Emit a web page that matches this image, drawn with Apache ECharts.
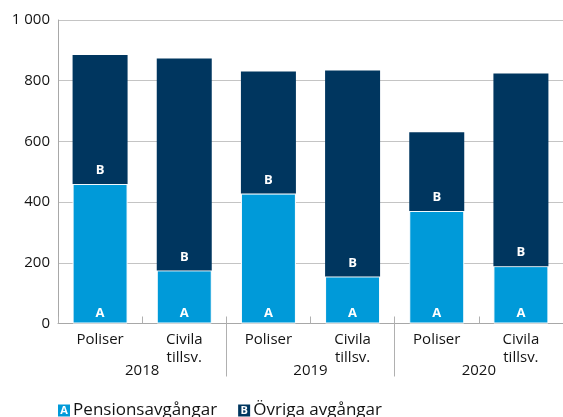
<!DOCTYPE html>
<html>
<head>
<meta charset="utf-8">
<script src="https://cdn.jsdelivr.net/npm/echarts@6/dist/echarts.min.js"></script>
<style>
  html, body { margin: 0; padding: 0; background: #fff; }
  #chart { width: 563px; height: 417px; }
</style>
</head>
<body>
<div id="chart"></div>
<script>
// Avgångar per år och personalkategori
const categories = ['Poliser', 'Civila\ntillsv.', 'Poliser', 'Civila\ntillsv.', 'Poliser', 'Civila\ntillsv.'];
const years = ['2018', '2019', '2020'];
const pension = [460, 175, 428, 155, 371, 189];   // A Pensionsavgångar
const ovriga = [425, 698, 402, 679, 259, 635];    // B Övriga avgångar
const yTicks = [0, 200, 400, 600, 800, 1000];

const colorA = '#009ad9';
const colorB = '#00365f';
const textColor = '#141414';
const fontFamily = '"Open Sans", "Noto Sans", sans-serif';

const chart = echarts.init(document.getElementById('chart'), null, { renderer: 'canvas' });

function thousands(v) {
  return String(v).replace(/\B(?=(\d{3})+(?!\d))/g, ' ');
}

chart.setOption({
  animation: false,
  textStyle: { fontFamily: fontFamily },
  grid: { left: 58, right: 0, top: 20, bottom: 93.5, containLabel: false },
  legend: {
    left: 47,
    bottom: -7,
    itemWidth: 0,
    itemHeight: 0,
    itemGap: 16,
    icon: 'rect',
    data: ['Pensionsavgångar', 'Övriga avgångar'],
    formatter: function (name) {
      return name === 'Pensionsavgångar'
        ? '{a|A} {t|' + name + '}'
        : '{b|B} {t|' + name + '}';
    },
    textStyle: {
      rich: {
        a: { backgroundColor: colorA, color: '#fff', fontWeight: 'bold', fontSize: 11, width: 12, height: 12, align: 'center', lineHeight: 12, fontFamily: fontFamily },
        b: { backgroundColor: colorB, color: '#fff', fontWeight: 'bold', fontSize: 11, width: 12, height: 12, align: 'center', lineHeight: 12, fontFamily: fontFamily },
        t: { color: textColor, fontSize: 17, fontFamily: fontFamily }
      }
    }
  },
  xAxis: [
    {
      type: 'category',
      data: categories,
      position: 'bottom',
      axisLine: { show: true, lineStyle: { color: '#a8a8a8', width: 1 } },
      axisTick: { show: true, inside: true, length: 7, lineStyle: { color: '#b0b0b0' } },
      axisLabel: { color: textColor, fontSize: 15, lineHeight: 18, margin: 7, interval: 0, fontFamily: fontFamily }
    },
    {
      type: 'category',
      data: years,
      position: 'bottom',
      gridIndex: 0,
      axisLine: { show: false },
      axisTick: {
        show: true,
        length: 53,
        interval: function (index) { return index !== 0; },
        lineStyle: { color: '#b0b0b0' }
      },
      axisLabel: { color: textColor, fontSize: 15, margin: 40, interval: 0, fontFamily: fontFamily }
    }
  ],
  yAxis: {
    type: 'value',
    min: yTicks[0],
    max: yTicks[yTicks.length - 1],
    interval: 200,
    axisLine: { show: true, lineStyle: { color: '#a8a8a8', width: 1 } },
    axisTick: { show: false },
    splitLine: { show: true, lineStyle: { color: '#c4c4c4', width: 1 } },
    axisLabel: { color: textColor, fontSize: 15, margin: 8, formatter: thousands, fontFamily: fontFamily }
  },
  series: [
    {
      name: 'Pensionsavgångar',
      type: 'bar',
      stack: 'total',
      xAxisIndex: 0,
      barWidth: 55,
      data: pension,
      itemStyle: { color: colorA, borderColor: '#ffffff', borderWidth: 1 },
      label: {
        show: true, position: 'insideBottom', distance: 4,
        formatter: 'A', color: '#fff', fontWeight: 'bold', fontSize: 13, fontFamily: fontFamily
      }
    },
    {
      name: 'Övriga avgångar',
      type: 'bar',
      stack: 'total',
      xAxisIndex: 0,
      barWidth: 55,
      data: ovriga,
      itemStyle: { color: colorB },
      label: {
        show: true, position: 'insideBottom', distance: 7,
        formatter: 'B', color: '#fff', fontWeight: 'bold', fontSize: 13, fontFamily: fontFamily
      }
    }
  ]
});
</script>
</body>
</html>
